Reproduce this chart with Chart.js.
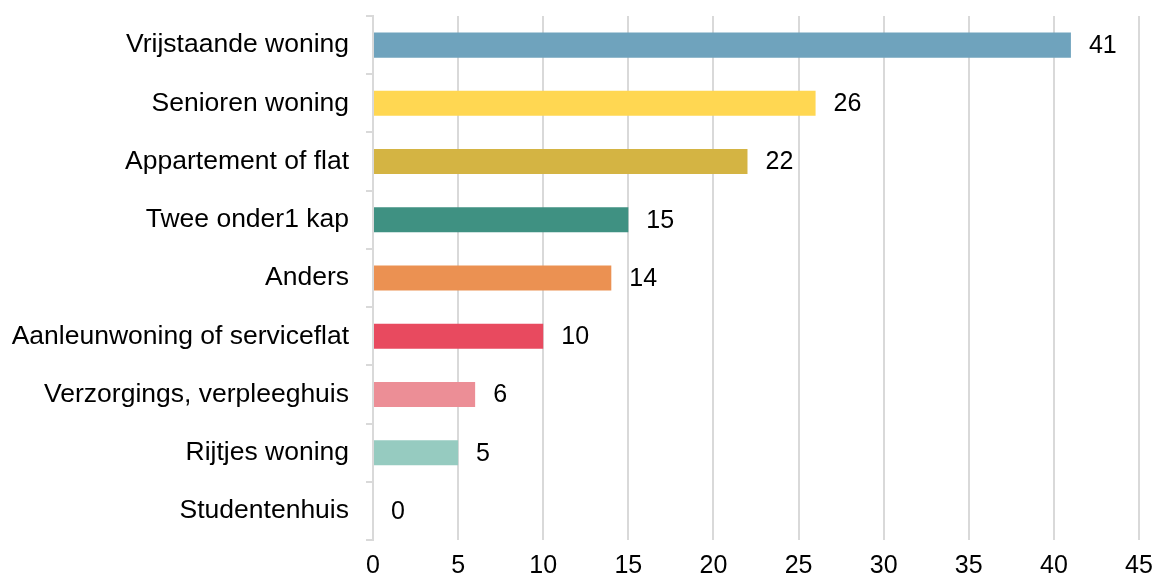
<!DOCTYPE html>
<html>
<head>
<meta charset="utf-8">
<script src="https://cdn.jsdelivr.net/npm/chart.js@4"></script>
<style>
html,body{margin:0;padding:0;background:#fff;}
#wrap{width:1157px;height:581px;position:relative;}
</style>
</head>
<body>
<div id="wrap"><canvas id="c" width="1157" height="581"></canvas></div>
<script>
const categories = ["Vrijstaande woning","Senioren woning","Appartement of flat","Twee onder1 kap","Anders","Aanleunwoning of serviceflat","Verzorgings, verpleeghuis","Rijtjes woning","Studentenhuis"];
const values = [41,26,22,15,14,10,6,5,0];
const barColors = ["#6fa3bd","#ffd752","#d4b443","#3f9182","#eb9152","#e84a5f","#ec8e96","#96cbc0","#9fc9e0"];
const xTicks = [0,5,10,15,20,25,30,35,40,45];

const FONT = "'Liberation Sans', Arial, sans-serif";

const valueLabels = {
  id: 'valueLabels',
  afterDatasetsDraw(chart) {
    const ctx = chart.ctx;
    const meta = chart.getDatasetMeta(0);
    ctx.save();
    ctx.font = "25px " + FONT;
    ctx.fillStyle = "#000";
    ctx.textAlign = "left";
    ctx.textBaseline = "middle";
    meta.data.forEach((el, i) => {
      ctx.fillText(String(values[i]), el.x + 18, el.y + 1);
    });
    ctx.restore();
  }
};

new Chart(document.getElementById('c'), {
  type: 'bar',
  data: {
    labels: categories,
    datasets: [{
      data: values,
      backgroundColor: barColors,
      borderWidth: 0,
      barPercentage: 0.86,
      categoryPercentage: 0.5
    }]
  },
  options: {
    indexAxis: 'y',
    responsive: false,
    animation: false,
    devicePixelRatio: 1,
    layout: { padding: { top: 16, right: 18, left: 0, bottom: 0 } },
    plugins: { legend: { display: false }, tooltip: { enabled: false } },
    scales: {
      x: {
        min: 0, max: 45,
        afterBuildTicks(scale) { scale.ticks = xTicks.map(v => ({ value: v })); },
        afterFit(scale) { scale.height = 41; scale.paddingRight = 0; scale.paddingLeft = 0; },
        grid: { color: '#d9d9d9', lineWidth: 2, drawTicks: false },
        border: { display: false },
        ticks: { color: '#000', font: { family: FONT, size: 25 }, padding: 11 }
      },
      y: {
        afterFit(scale) { scale.width = 373; scale.paddingTop = 0; scale.paddingBottom = 0; },
        grid: { drawOnChartArea: false, offset: true, color: '#d9d9d9', lineWidth: 2, tickLength: 7 },
        border: { display: true, color: '#d9d9d9', width: 2 },
        ticks: { color: '#000', font: { family: FONT, size: 26.5 }, padding: 17 }
      }
    }
  },
  plugins: [valueLabels]
});
</script>
</body>
</html>
